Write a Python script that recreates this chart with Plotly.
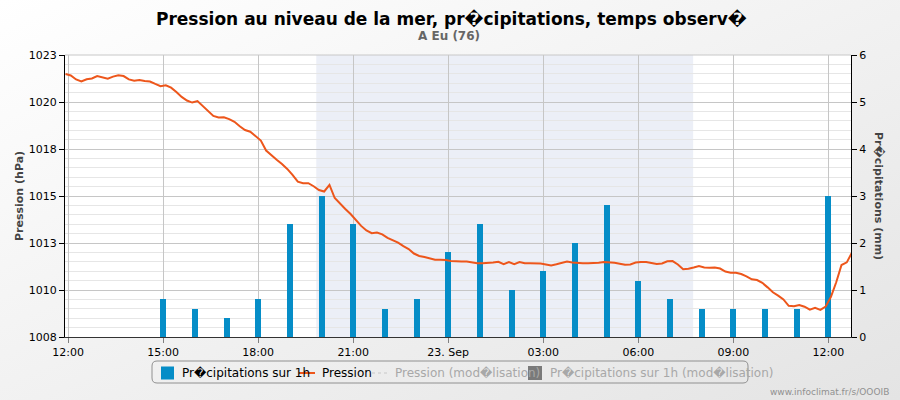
import base64
import pandas as pd
import plotly.graph_objects as go

# ---------------- data ----------------
precip_times = [
    "2019-09-22 15:00", "2019-09-22 16:00", "2019-09-22 17:00", "2019-09-22 18:00",
    "2019-09-22 19:00", "2019-09-22 20:00", "2019-09-22 21:00", "2019-09-22 22:00",
    "2019-09-22 23:00", "2019-09-23 00:00", "2019-09-23 01:00", "2019-09-23 02:00",
    "2019-09-23 03:00", "2019-09-23 04:00", "2019-09-23 05:00", "2019-09-23 06:00",
    "2019-09-23 07:00", "2019-09-23 08:00", "2019-09-23 09:00", "2019-09-23 10:00",
    "2019-09-23 11:00", "2019-09-23 12:00",
]
precip_mm = [0.8, 0.6, 0.4, 0.8, 2.4, 3.0, 2.4, 0.6, 0.8, 1.8, 2.4, 1.0,
             1.4, 2.0, 2.8, 1.2, 0.8, 0.6, 0.6, 0.6, 0.6, 3.0]

pressure_start = "2019-09-22 11:55"
pressure_step = "10min"
pressure_hpa = [
    1021.99, 1021.91, 1021.70, 1021.59, 1021.71, 1021.75, 1021.88, 1021.79, 1021.74, 1021.85,
    1021.92, 1021.88, 1021.70, 1021.63, 1021.67, 1021.62, 1021.59, 1021.46, 1021.34, 1021.39,
    1021.26, 1021.03, 1020.77, 1020.58, 1020.47, 1020.55, 1020.29, 1020.01, 1019.76, 1019.68,
    1019.69, 1019.59, 1019.45, 1019.21, 1019.01, 1018.92, 1018.68, 1018.45, 1017.92, 1017.65,
    1017.43, 1017.20, 1016.94, 1016.62, 1016.26, 1016.18, 1016.18, 1016.02, 1015.82, 1015.74,
    1016.09, 1015.39, 1015.08, 1014.81, 1014.54, 1014.21, 1013.91, 1013.67, 1013.52, 1013.56,
    1013.46, 1013.27, 1013.16, 1013.02, 1012.83, 1012.68, 1012.44, 1012.31, 1012.26, 1012.17,
    1012.11, 1012.11, 1012.10, 1012.04, 1012.01, 1012.01, 1012.01, 1011.96, 1011.92, 1011.92,
    1011.92, 1011.96, 1012.00, 1011.88, 1011.99, 1011.88, 1011.99, 1011.92, 1011.92, 1011.92,
    1011.91, 1011.86, 1011.81, 1011.87, 1011.95, 1012.01, 1011.96, 1011.92, 1011.92, 1011.92,
    1011.92, 1011.95, 1011.99, 1011.99, 1011.95, 1011.90, 1011.84, 1011.86, 1011.96, 1011.99,
    1011.99, 1011.94, 1011.88, 1011.91, 1012.03, 1012.04, 1011.86, 1011.60, 1011.63, 1011.70,
    1011.78, 1011.70, 1011.68, 1011.70, 1011.64, 1011.48, 1011.42, 1011.42, 1011.35, 1011.23,
    1011.07, 1011.03, 1010.88, 1010.64, 1010.38, 1010.20, 1010.00, 1009.66, 1009.64, 1009.70,
    1009.61, 1009.45, 1009.55, 1009.44, 1009.62, 1010.13, 1010.91, 1011.83, 1011.97, 1012.50,
]
pressure_times = pd.date_range(pressure_start, periods=len(pressure_hpa), freq=pressure_step)

x_tick_vals = ["2019-09-22 12:00", "2019-09-22 15:00", "2019-09-22 18:00", "2019-09-22 21:00",
               "2019-09-23 00:00", "2019-09-23 03:00", "2019-09-23 06:00", "2019-09-23 09:00",
               "2019-09-23 12:00"]
x_tick_text = ["12:00", "15:00", "18:00", "21:00", "23. Sep", "03:00", "06:00", "09:00", "12:00"]

p_tick_vals = [1008, 1010.5, 1013, 1015.5, 1018, 1020.5, 1023]
p_tick_text = ["1008", "1010", "1013", "1015", "1018", "1020", "1023"]

night_start = "2019-09-22 19:50"
night_end = "2019-09-23 07:44"
x_range = ["2019-09-22 11:54", "2019-09-23 12:43"]

Q = "\ufffd"
title_text = f"Pression au niveau de la mer, pr{Q}cipitations, temps observ{Q}"
subtitle_text = "A Eu (76)"
legend_names = [f"Pr{Q}cipitations sur 1h", "Pression",
                f"Pression (mod{Q}lisation)", f"Pr{Q}cipitations sur 1h (mod{Q}lisation)"]

# ---------------- figure ----------------
BLUE = "#058DC7"
ORANGE = "#ED561B"
SANS = "DejaVu Sans, Verdana, sans-serif"

W, H = 900, 400
L, R, T, B = 65, 49, 55, 63
PW, PH = W - L - R, H - T - B


def px(xpix):
    return (xpix - L) / PW


def py(ypix):
    return (T + PH - ypix) / PH


fig = go.Figure()

fig.add_trace(go.Bar(
    x=pd.to_datetime(precip_times), y=precip_mm, name=legend_names[0],
    marker=dict(color=BLUE, line=dict(width=0)), width=0.19 * 3600000, yaxis="y",
    showlegend=False,
))
fig.add_trace(go.Scatter(
    x=pressure_times, y=pressure_hpa, name=legend_names[1], mode="lines",
    line=dict(color=ORANGE, width=2), yaxis="y2", showlegend=False,
))

svg = (f'<svg xmlns="http://www.w3.org/2000/svg" width="{W}" height="{H}">'
       '<defs><linearGradient id="g" x1="0" y1="0" x2="1" y2="1">'
       '<stop offset="0" stop-color="#ffffff"/><stop offset="1" stop-color="#e4e4e4"/>'
       f'</linearGradient></defs><rect width="{W}" height="{H}" fill="url(#g)"/>'
       f'<rect x="{L}" y="{T}" width="{PW}" height="{PH}" fill="#ffffff"/></svg>')
svg_uri = "data:image/svg+xml;base64," + base64.b64encode(svg.encode()).decode()

# legend box (rounded rectangle), drawn manually to mimic the original packed legend
bx0, bx1, by0, by1, rr = 152, 748, 361, 383, 5


def rounded_path(x0, x1, y0, y1, r):
    return (f"M {px(x0 + r)},{py(y0)} L {px(x1 - r)},{py(y0)} "
            f"Q {px(x1)},{py(y0)} {px(x1)},{py(y0 + r)} L {px(x1)},{py(y1 - r)} "
            f"Q {px(x1)},{py(y1)} {px(x1 - r)},{py(y1)} L {px(x0 + r)},{py(y1)} "
            f"Q {px(x0)},{py(y1)} {px(x0)},{py(y1 - r)} L {px(x0)},{py(y0 + r)} "
            f"Q {px(x0)},{py(y0)} {px(x0 + r)},{py(y0)} Z")


legend_y = 373
shapes = [
    dict(type="rect", xref="x", yref="paper", x0=night_start, x1=night_end, y0=0, y1=1,
         fillcolor="#eceff7", line=dict(width=0), layer="below"),
    dict(type="line", xref="paper", yref="paper", x0=0, x1=1, y0=1, y1=1,
         line=dict(color="#c8c8c8", width=1), layer="above"),
    dict(type="path", xref="paper", yref="paper", path=rounded_path(bx0, bx1, by0, by1, rr),
         line=dict(color="#909090", width=1), fillcolor="rgba(0,0,0,0)", layer="above"),
    dict(type="rect", xref="paper", yref="paper", x0=px(161), x1=px(174), y0=py(379.5), y1=py(366.5),
         fillcolor=BLUE, line=dict(width=0), layer="above"),
    dict(type="line", xref="paper", yref="paper", x0=px(299), x1=px(315), y0=py(legend_y), y1=py(legend_y),
         line=dict(color=ORANGE, width=2), layer="above"),
    dict(type="line", xref="paper", yref="paper", x0=px(372), x1=px(389), y0=py(legend_y), y1=py(legend_y),
         line=dict(color="#c8c8c8", width=1, dash="dot"), layer="above"),
    dict(type="rect", xref="paper", yref="paper", x0=px(528), x1=px(542), y0=py(380), y1=py(366),
         fillcolor="#7a7a7a", line=dict(width=0), layer="above"),
]

legend_texts = [
    (legend_names[0], 180, "#000000"),
    (legend_names[1], 320, "#000000"),
    (legend_names[2], 393, "#a8a8a8"),
    (legend_names[3], 548, "#a8a8a8"),
]

annotations = [
    dict(text=title_text, xref="paper", yref="paper", x=px(451), y=py(19),
         xanchor="center", yanchor="middle", showarrow=False,
         font=dict(family=SANS, size=17, color="#000000", weight="bold")),
    dict(text=subtitle_text, xref="paper", yref="paper", x=px(449), y=py(36),
         xanchor="center", yanchor="middle", showarrow=False,
         font=dict(family=SANS, size=12, color="#666666", weight="bold")),
    dict(text="Pression (hPa)", xref="paper", yref="paper", x=px(19), y=0.5,
         xanchor="center", yanchor="middle", textangle=-90, showarrow=False,
         font=dict(family=SANS, size=11, color="#444444", weight="bold")),
    dict(text=f"Pr{Q}cipitations (mm)", xref="paper", yref="paper", x=px(879), y=0.5,
         xanchor="center", yanchor="middle", textangle=90, showarrow=False,
         font=dict(family=SANS, size=11, color="#444444", weight="bold")),
    dict(text="www.infoclimat.fr/s/OOOIB", xref="paper", yref="paper", x=px(891),
         y=py(392), xanchor="right", yanchor="middle", showarrow=False,
         font=dict(family=SANS, size=9, color="#909090")),
]
for txt, x0, col in legend_texts:
    annotations.append(dict(text=txt, xref="paper", yref="paper", x=px(x0), y=py(legend_y),
                            xanchor="left", yanchor="middle", showarrow=False,
                            font=dict(family=SANS, size=12, color=col)))

fig.update_layout(
    width=W, height=H,
    margin=dict(l=L, r=R, t=T, b=B, pad=0),
    paper_bgcolor="#ffffff", plot_bgcolor="#ffffff",
    barmode="overlay", bargap=0,
    showlegend=False,
    hovermode=False,
    font=dict(family=SANS, size=11, color="#000000"),
    xaxis=dict(
        type="date", range=x_range, tickmode="array", tickvals=x_tick_vals, ticktext=x_tick_text,
        showgrid=True, gridcolor="#c6c6c6", gridwidth=1,
        ticks="outside", ticklen=5, tickcolor="#808080",
        showline=True, linecolor="#333333", linewidth=1, zeroline=False,
        tickfont=dict(family=SANS, size=11, color="#000000"),
    ),
    yaxis=dict(
        side="right", range=[0, 6], tickmode="linear", tick0=0, dtick=1,
        showgrid=False, zeroline=False, showline=True, linecolor="#000000", linewidth=1,
        ticks="outside", ticklen=5, tickcolor="#000000",
        tickfont=dict(family=SANS, size=11, color="#000000"),
    ),
    yaxis2=dict(
        overlaying="y", side="left", range=[1008, 1023], tickmode="array",
        tickvals=p_tick_vals, ticktext=p_tick_text,
        showgrid=True, gridcolor="#c6c6c6", gridwidth=1, zeroline=False,
        minor=dict(tickmode="linear", tick0=1008, dtick=0.5, showgrid=True,
                   gridcolor="#e6e6e6", gridwidth=1, ticks=""),
        showline=True, linecolor="#000000", linewidth=1,
        ticks="outside", ticklen=5, tickcolor="#000000",
        tickfont=dict(family=SANS, size=11, color="#000000"),
    ),
    shapes=shapes,
    images=[dict(source=svg_uri, xref="paper", yref="paper", x=-L / PW, y=1 + T / PH,
                 sizex=W / PW, sizey=H / PH, xanchor="left", yanchor="top",
                 sizing="stretch", layer="below")],
    annotations=annotations,
)

fig.write_html("out.html")
